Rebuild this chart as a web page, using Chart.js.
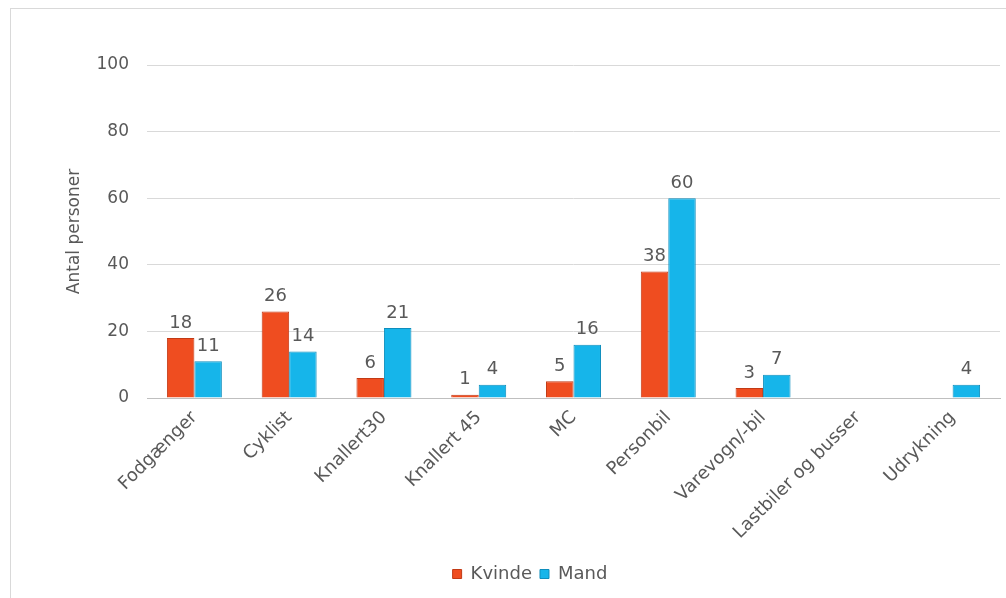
<!DOCTYPE html>
<html>
<head>
<meta charset="utf-8">
<script src="https://cdn.jsdelivr.net/npm/chart.js@4"></script>
<style>
  html, body { margin: 0; padding: 0; background: #fff; }
  #frame { position: absolute; left: 10px; top: 8px; width: 1000px; height: 600px; border: 1px solid #d9d9d9; box-sizing: border-box; }
  #wrap { position: absolute; left: 0; top: 0; width: 1006px; height: 598px; }
</style>
</head>
<body>
<div id="frame"></div>
<div id="wrap"><canvas id="chart"></canvas></div>
<script>
const categories = ["Fodgænger", "Cyklist", "Knallert30", "Knallert 45", "MC", "Personbil", "Varevogn/-bil", "Lastbiler og busser", "Udrykning"];
const kvinde = [18, 26, 6, 1, 5, 38, 3, null, null];
const mand = [11, 14, 21, 4, 16, 60, 7, null, 4];
const yTicks = [0, 20, 40, 60, 80, 100];

const textColor = "#595959";
const fontFamily = "DejaVu Sans";

// value labels above each bar
const barLabels = {
  id: "barLabels",
  afterDatasetsDraw(chart) {
    const ctx = chart.ctx;
    ctx.save();
    ctx.font = "18px " + fontFamily;
    ctx.fillStyle = textColor;
    ctx.textAlign = "center";
    ctx.textBaseline = "bottom";
    chart.data.datasets.forEach((ds, i) => {
      chart.getDatasetMeta(i).data.forEach((bar, j) => {
        const v = ds.data[j];
        if (v === null || v === undefined) return;
        ctx.fillText(String(v), bar.x, bar.y - 6);
      });
    });
    ctx.restore();
  }
};

const ctx = document.getElementById("chart").getContext("2d");
new Chart(ctx, {
  type: "bar",
  data: {
    labels: categories,
    datasets: [
      {
        label: "Kvinde",
        data: kvinde,
        backgroundColor: "#EF4D20",
        borderColor: "#C23A15",
        borderWidth: 1,
      },
      {
        label: "Mand",
        data: mand,
        backgroundColor: "#16B5EA",
        borderColor: "#0E8EBD",
        borderWidth: 1,
      },
    ],
  },
  options: {
    responsive: true,
    maintainAspectRatio: false,
    animation: { duration: 0 },
    categoryPercentage: 0.58,
    barPercentage: 1.0,
    layout: {
      padding: { top: 65, right: 6, bottom: 5, left: 60 },
    },
    plugins: {
      legend: {
        display: true,
        position: "bottom",
        labels: {
          color: textColor,
          font: { family: fontFamily, size: 18 },
          boxWidth: 9,
          boxHeight: 9,
          padding: 8,
        },
      },
      tooltip: { enabled: false },
    },
    scales: {
      x: {
        grid: { display: false, drawTicks: false },
        border: { color: "#bfbfbf" },
        ticks: {
          color: textColor,
          font: { family: fontFamily, size: 18 },
          minRotation: 45,
          maxRotation: 45,
          padding: 9,
          autoSkip: false,
        },
        afterFit(scale) { scale.height = 159; },
      },
      y: {
        min: 0,
        max: 100,
        afterBuildTicks(scale) { scale.ticks = yTicks.map((v) => ({ value: v })); },
        grid: { color: "#d9d9d9", drawTicks: false },
        border: { display: false },
        ticks: {
          color: textColor,
          font: { family: fontFamily, size: 17 },
          padding: 18,
        },
        title: {
          display: true,
          text: "Antal personer",
          color: textColor,
          font: { family: fontFamily, size: 17 },
        },
        afterFit(scale) { scale.width = 87; },
      },
    },
  },
  plugins: [barLabels],
});
</script>
</body>
</html>
